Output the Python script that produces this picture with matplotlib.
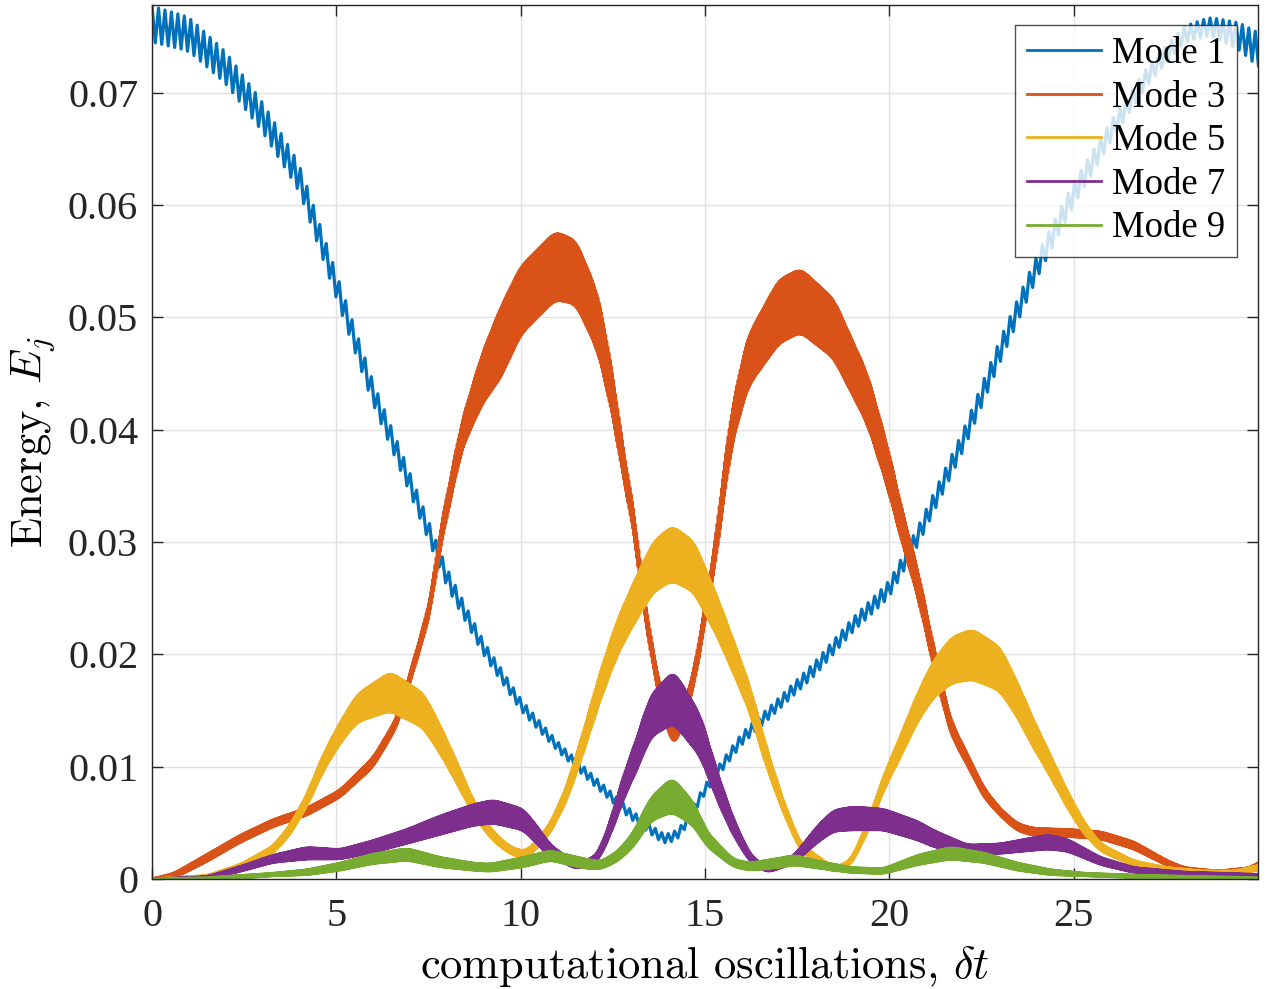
import numpy as np
import matplotlib
matplotlib.use("Agg")
import matplotlib.pyplot as plt

# ---------------------------------------------------------------
# Modal energies E_j(t): slow envelope (centre) and half-width of the
# fast oscillation band at a set of sample times.
# ---------------------------------------------------------------
mode1_t = [0, 1, 2, 3, 4, 5, 6, 7, 8, 9, 10, 11, 12, 13, 13.9, 14.3, 15, 16, 17, 18,
           19, 20, 20.77, 22, 23, 24, 25, 26, 27, 28, 28.7, 29.5, 30]
mode1_c = [0.0761, 0.0752, 0.0722, 0.0678, 0.0624, 0.0528, 0.0432, 0.0352, 0.0268,
           0.0205, 0.0155, 0.0118, 0.0087, 0.0057, 0.0035, 0.0040, 0.0080, 0.0125,
           0.0156, 0.0188, 0.0226, 0.0258, 0.0305, 0.0390, 0.0470, 0.0545, 0.0610,
           0.0665, 0.0715, 0.0752, 0.0759, 0.0750, 0.0738]
mode1_a = [0.0016, 0.0015, 0.0014, 0.0013, 0.0012, 0.0011, 0.0010, 0.0009, 0.0008,
           0.0006, 0.0005, 0.0004, 0.0004, 0.0004, 0.0004, 0.0004, 0.0004, 0.0005,
           0.0005, 0.0006, 0.0006, 0.0007, 0.0008, 0.0009, 0.0010, 0.0010, 0.0010,
           0.0009, 0.0008, 0.0007, 0.0008, 0.0012, 0.0015]

mode3_t = [0, 0.6, 1.5, 2.4, 3.3, 4.2, 5.1, 6.0, 6.65, 7.2, 7.55, 7.8, 8.4, 8.95, 9.45,
           10.0, 10.94, 11.5, 12.1, 12.52, 12.79, 13.06, 13.33, 13.7, 14.15, 14.69,
           15.0, 15.23, 15.69, 16.15, 17.0, 17.59, 18.49, 19.41, 19.95, 20.39, 20.77,
           21.2, 21.66, 22.12, 22.56, 23.02, 23.48, 23.9, 24.84, 25.73, 26.63, 27.55,
           28.0, 28.9, 29.8, 30]
mode3_c = [0, 0.0003, 0.0019, 0.0036, 0.0050, 0.0060, 0.0076, 0.0104, 0.0140, 0.0202,
           0.0242, 0.0300, 0.0395, 0.0445, 0.0477, 0.0515, 0.0546, 0.0540, 0.0495,
           0.0427, 0.0367, 0.0322, 0.0248, 0.0175, 0.0122, 0.0175, 0.0237, 0.0278,
           0.0397, 0.0460, 0.0505, 0.0515, 0.0490, 0.0427, 0.0367, 0.0308, 0.0264,
           0.0198, 0.0135, 0.0106, 0.0077, 0.0059, 0.0046, 0.0042, 0.0041, 0.0039,
           0.0030, 0.0014, 0.0008, 0.0005, 0.0008, 0.0013]
mode3_a = [0, 0.0002, 0.0003, 0.0003, 0.0003, 0.0003, 0.0003, 0.0004, 0.0004, 0.0005,
           0.0006, 0.0008, 0.0012, 0.0022, 0.0031, 0.0030, 0.0030, 0.0028, 0.0025,
           0.0018, 0.0012, 0.0010, 0.0008, 0.0007, 0.0008, 0.0007, 0.0008, 0.0010,
           0.0015, 0.0022, 0.0028, 0.0028, 0.0026, 0.0022, 0.0018, 0.0014, 0.0012,
           0.0009, 0.0006, 0.0005, 0.0004, 0.0003, 0.0003, 0.0003, 0.0003, 0.0003,
           0.0003, 0.0002, 0.0002, 0.0002, 0.0002, 0.0002]

mode5_t = [0, 1.5, 2.4, 3.28, 3.75, 4.2, 4.65, 5.1, 5.56, 6.46, 7.36, 7.82, 8.28, 8.71,
           9.17, 9.64, 10.07, 10.34, 10.8, 11.26, 11.7, 12.16, 12.62, 13.06, 13.6,
           14.11, 14.7, 15.34, 15.77, 16.23, 16.69, 17.13, 17.59, 18.49, 18.95, 19.41,
           19.84, 20.3, 20.77, 21.2, 21.7, 22.26, 23.0, 23.48, 23.9, 24.38, 24.84,
           25.27, 25.73, 26.63, 27.55, 28.5, 29.4, 30]
mode5_c = [0, 0.0002, 0.0011, 0.0026, 0.0044, 0.0070, 0.0104, 0.0130, 0.0152, 0.0167,
           0.0150, 0.0124, 0.0094, 0.0064, 0.0041, 0.0027, 0.0021, 0.0027, 0.0045,
           0.0077, 0.0122, 0.0172, 0.0215, 0.0245, 0.0278, 0.0290, 0.0278, 0.0233,
           0.0198, 0.0159, 0.0106, 0.0064, 0.0028, 0.0008, 0.0014, 0.0046, 0.0085,
           0.0118, 0.0153, 0.0178, 0.0195, 0.0200, 0.0187, 0.0159, 0.0130, 0.0100,
           0.0070, 0.0046, 0.0028, 0.0014, 0.0008, 0.0006, 0.0006, 0.0010]
mode5_a = [0, 0.0001, 0.0002, 0.0003, 0.0004, 0.0005, 0.0007, 0.0009, 0.0012, 0.0017,
           0.0015, 0.0012, 0.0009, 0.0006, 0.0004, 0.0003, 0.0003, 0.0003, 0.0004,
           0.0006, 0.0009, 0.0012, 0.0015, 0.0018, 0.0022, 0.0024, 0.0022, 0.0017,
           0.0014, 0.0011, 0.0008, 0.0005, 0.0003, 0.0002, 0.0002, 0.0004, 0.0006,
           0.0009, 0.0012, 0.0016, 0.0020, 0.0022, 0.0019, 0.0015, 0.0012, 0.0009,
           0.0007, 0.0005, 0.0003, 0.0002, 0.0002, 0.0001, 0.0001, 0.0002]

mode7_t = [0, 1.5, 2.39, 3.28, 4.2, 5.1, 6.0, 6.92, 7.82, 8.71, 9.26, 10.07, 10.53,
           10.8, 11.53, 12.08, 12.43, 12.79, 13.17, 13.52, 14.15, 14.87, 15.34, 15.77,
           16.23, 16.69, 17.4, 18.05, 18.49, 19.03, 19.84, 20.77, 21.2, 22.12, 23.0,
           24.3, 24.84, 25.73, 26.63, 28.0, 30]
mode7_c = [0, 0.0001, 0.0009, 0.0018, 0.0023, 0.0022, 0.0029, 0.0038, 0.0048, 0.0057,
           0.0060, 0.0053, 0.0036, 0.0025, 0.0011, 0.0018, 0.0045, 0.0082, 0.0113,
           0.0145, 0.0162, 0.0128, 0.0082, 0.0046, 0.0018, 0.0008, 0.0017, 0.0040,
           0.0052, 0.0054, 0.0053, 0.0043, 0.0036, 0.0026, 0.0027, 0.0033, 0.0030,
           0.0016, 0.0008, 0.0005, 0.0003]
mode7_a = [0, 0.0001, 0.0002, 0.0003, 0.0005, 0.0004, 0.0005, 0.0006, 0.0008, 0.0009,
           0.0010, 0.0009, 0.0007, 0.0005, 0.0002, 0.0003, 0.0006, 0.0010, 0.0014,
           0.0018, 0.0023, 0.0018, 0.0012, 0.0007, 0.0003, 0.0002, 0.0003, 0.0007,
           0.0009, 0.0010, 0.0009, 0.0008, 0.0007, 0.0004, 0.0004, 0.0006, 0.0005,
           0.0003, 0.0002, 0.0001, 0.0001]

mode9_t = [0, 1.5, 2.39, 3.28, 4.2, 5.1, 6.0, 6.92, 7.82, 8.71, 9.17, 10.07, 10.8,
           11.7, 12.16, 12.62, 13.06, 13.52, 14.11, 14.69, 15.06, 15.77, 16.23, 17.13,
           17.4, 18.05, 18.95, 19.84, 20.77, 21.66, 22.56, 23.48, 24.38, 25.3, 27.0, 30]
mode9_c = [0, 0.0001, 0.0002, 0.0004, 0.0006, 0.0011, 0.0018, 0.0022, 0.0015, 0.0011,
           0.0010, 0.0015, 0.0021, 0.0014, 0.0012, 0.0020, 0.0035, 0.0062, 0.0075,
           0.0058, 0.0035, 0.0014, 0.0011, 0.0015, 0.0017, 0.0013, 0.0008, 0.0007,
           0.0017, 0.0023, 0.0019, 0.0011, 0.0006, 0.0004, 0.0002, 0.0001]
mode9_a = [0, 0.0000, 0.0001, 0.0001, 0.0002, 0.0003, 0.0004, 0.0005, 0.0004, 0.0003,
           0.0003, 0.0004, 0.0004, 0.0004, 0.0003, 0.0004, 0.0006, 0.0010, 0.0015,
           0.0010, 0.0006, 0.0003, 0.0003, 0.0004, 0.0004, 0.0003, 0.0002, 0.0002,
           0.0004, 0.0005, 0.0004, 0.0003, 0.0002, 0.0001, 0.0001, 0.0000]

labels = ["Mode 1", "Mode 3", "Mode 5", "Mode 7", "Mode 9"]
colors = ["#0072BD", "#D95319", "#EDB120", "#7E2F8E", "#77AC30"]
fast_periods = [0.175, 0.03, 0.03, 0.03, 0.03]
smooth_width = [0.10, 0.12, 0.12, 0.12, 0.12]

xticks = [0, 5, 10, 15, 20, 25]
yticks = [0, 0.01, 0.02, 0.03, 0.04, 0.05, 0.06, 0.07]
ytick_labels = ["0", "0.01", "0.02", "0.03", "0.04", "0.05", "0.06", "0.07"]

plt.rcParams["font.family"] = ["Liberation Serif", "DejaVu Serif"]
plt.rcParams["mathtext.fontset"] = "cm"


def smoothed(tt, t_k, v_k, width):
    """Piecewise-linear envelope, softened with a short moving Gaussian."""
    v = np.interp(tt, t_k, v_k)
    dt = tt[1] - tt[0]
    half = max(1, int(round(2 * width / dt)))
    kx = np.arange(-half, half + 1) * dt
    ker = np.exp(-0.5 * (kx / width) ** 2)
    ker /= ker.sum()
    vp = np.pad(v, half, mode="edge")
    return np.convolve(vp, ker, mode="valid")


fig = plt.figure(figsize=(12.66, 9.89), dpi=100)
ax = fig.add_axes([0.1201, 0.1112, 0.8736, 0.8838])

series = [(mode1_t, mode1_c, mode1_a), (mode3_t, mode3_c, mode3_a),
          (mode5_t, mode5_c, mode5_a), (mode7_t, mode7_c, mode7_a),
          (mode9_t, mode9_c, mode9_a)]

for (t_k, c_k, a_k), lab, col, per, sw in zip(series, labels, colors,
                                              fast_periods, smooth_width):
    # fast oscillation drawn as a zig-zag spanning the band centre +/- half-width
    tt = np.arange(0, 30.0 + per / 4, per / 2)
    cen = smoothed(tt, t_k, c_k, sw)
    amp = smoothed(tt, t_k, a_k, sw)
    sign = np.where(np.arange(tt.size) % 2 == 0, 1.0, -1.0)
    yy = np.clip(cen + sign * amp, 0, None)
    ax.plot(tt, yy, color=col, lw=2.3, label=lab, solid_joinstyle="round")

ax.set_xlim(0, 30)
ax.set_ylim(0, 0.0778)
ax.set_xticks(xticks)
ax.set_yticks(yticks)
ax.set_yticklabels(ytick_labels)

ax.grid(True, color="#e1e1e1", lw=1.0)
ax.set_axisbelow(True)
for sp in ax.spines.values():
    sp.set_color("#262626")
    sp.set_linewidth(1.0)
ax.tick_params(direction="in", length=8, width=1.0, colors="#262626",
               top=True, right=True, labelsize=29, pad=10)
ax.tick_params(axis="x", pad=14)

ax.set_xlabel(r"computational oscillations, $\delta t$", fontsize=32,
              family="cmr10", labelpad=6)
ax.set_ylabel(r"Energy, $E_j$", fontsize=32, family="cmr10", labelpad=8)

leg = ax.legend(loc="upper right", bbox_to_anchor=(0.981, 0.977), fontsize=26.5,
                frameon=True, fancybox=False, edgecolor="#262626",
                handlelength=2.0, handletextpad=0.3, labelspacing=0.245,
                borderpad=0.32, borderaxespad=0.0)
leg.get_frame().set_linewidth(1.0)
for h in leg.get_lines():
    h.set_linewidth(2.0)

fig.savefig("out.png", dpi=100)
